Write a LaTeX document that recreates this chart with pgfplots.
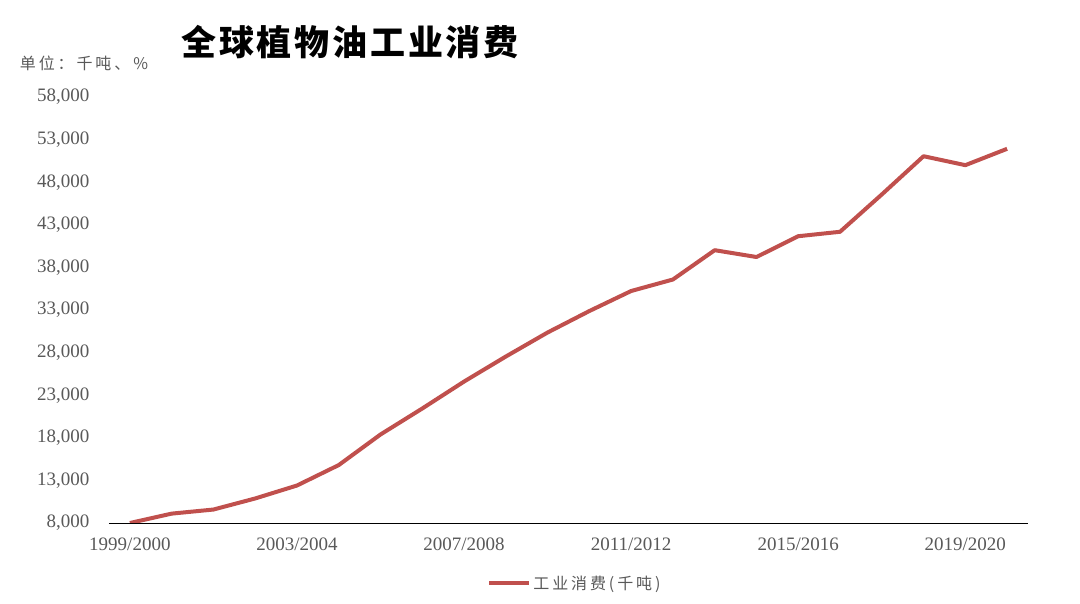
\documentclass[border=0pt]{standalone}
\usepackage{fontspec}
\setmainfont{Liberation Serif}
\newfontfamily\cjk[LetterSpace=18]{Noto Sans CJK SC}
\newfontfamily\cjktitle[LetterSpace=8]{Noto Sans CJK SC}
\usepackage{pgfplots}
\pgfplotsset{compat=1.18}
\definecolor{linered}{RGB}{192,80,77}
\definecolor{txtgray}{RGB}{89,89,89}

% industrial consumption, thousand tonnes, 1999/2000 .. 2020/2021
\pgfplotstableread{
x  y
0  8000
1  9100
2  9580
3  10880
4  12400
5  14800
6  18390
7  21440
8  24600
9  27540
10 30360
11 32880
12 35230
13 36580
14 40020
15 39220
16 41660
17 42180
18 46560
19 51050
20 50000
21 51920
}\consumption

\begin{document}
\begin{tikzpicture}[x=1pt,y=1pt]
\path[use as bounding box] (0,0) rectangle (1080,603);
\node[font=\cjktitle\bfseries\fontsize{35}{40}\selectfont] at (350,561) {全球植物油工业消费};
\node[font=\cjk\fontsize{16}{18}\selectfont, text=txtgray] at (84,540) {单位：千吨、\%};
\begin{axis}[
  at={(109pt,80pt)}, anchor=south west,
  scale only axis, width=919pt, height=426pt,
  xmin=-0.5, xmax=21.5, ymin=8000, ymax=58000,
  axis x line*=bottom, axis y line*=left,
  y axis line style={draw=none},
  x axis line style={black, line width=0.8pt},
  major tick length=0pt,
  xtick={0,4,8,12,16,20},
  xticklabels={1999/2000,2003/2004,2007/2008,2011/2012,2015/2016,2019/2020},
  ytick={8000,13000,...,58000},
  scaled y ticks=false,
  /pgf/number format/.cd, 1000 sep={,}, assume math mode=true, /pgfplots/.cd,
  tick label style={font=\fontsize{19}{21}\selectfont, text=txtgray},
  yticklabel style={xshift=-16pt},
  xticklabel style={yshift=-11pt},
  legend style={at={(0.507,-0.141)}, anchor=center, draw=none,
    font=\cjk\fontsize{16}{18}\selectfont, text=txtgray},
  legend image code/.code={\draw[#1] (0pt,0pt) -- (40pt,0pt);},
]
\addplot[linered, line width=4pt, line join=round] table[x=x, y=y] {\consumption};
\addlegendentry{工业消费(千吨)}
\end{axis}
\end{tikzpicture}
\end{document}
